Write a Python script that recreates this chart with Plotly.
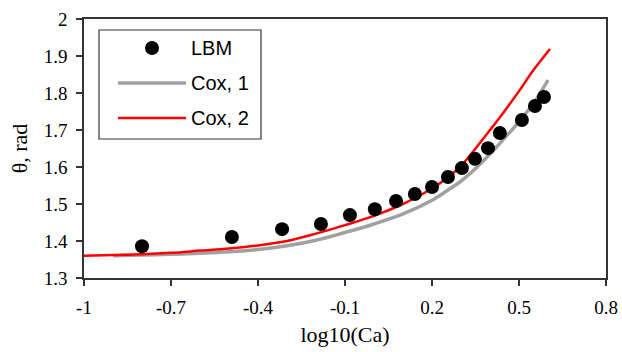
import plotly.graph_objects as go

# ---- data ----
lbm_x = [-0.80, -0.49, -0.317, -0.183, -0.083, 0.003, 0.076, 0.141, 0.200, 0.255,
         0.303, 0.348, 0.393, 0.434, 0.510, 0.555, 0.586]
lbm_y = [1.386, 1.411, 1.432, 1.446, 1.470, 1.486, 1.508, 1.527, 1.546, 1.573,
         1.597, 1.622, 1.651, 1.692, 1.727, 1.765, 1.789]

cox1_x = [-0.9, -0.8, -0.7, -0.6, -0.5, -0.4, -0.3, -0.2, -0.1, 0.0, 0.1, 0.2,
          0.25, 0.3, 0.35, 0.4, 0.45, 0.5, 0.55, 0.6]
cox1_y = [1.360, 1.362, 1.364, 1.367, 1.371, 1.377, 1.387, 1.402, 1.423, 1.446,
          1.473, 1.510, 1.535, 1.562, 1.596, 1.635, 1.678, 1.722, 1.772, 1.835]

cox2_x = [-1.0, -0.9, -0.8, -0.7, -0.6, -0.5, -0.4, -0.3, -0.2, -0.1, 0.0, 0.1,
          0.15, 0.2, 0.25, 0.3, 0.35, 0.4, 0.45, 0.5, 0.55, 0.607]
cox2_y = [1.360, 1.362, 1.364, 1.368, 1.374, 1.380, 1.388, 1.400, 1.420, 1.443,
          1.468, 1.500, 1.520, 1.542, 1.569, 1.603, 1.650, 1.700, 1.751, 1.805,
          1.862, 1.919]

x_ticks = [-1, -0.7, -0.4, -0.1, 0.2, 0.5, 0.8]
x_ticktext = ["-1", "-0.7", "-0.4", "-0.1", "0.2", "0.5", "0.8"]
y_ticks = [1.3, 1.4, 1.5, 1.6, 1.7, 1.8, 1.9, 2.0]
y_ticktext = ["1.3", "1.4", "1.5", "1.6", "1.7", "1.8", "1.9", "2"]

series_names = ["LBM", "Cox, 1", "Cox, 2"]

GRAY = "#a0a0a0"
RED = "#ff0000"

fig = go.Figure()
fig.add_trace(go.Scatter(x=cox1_x, y=cox1_y, mode="lines", name=series_names[1],
                         line=dict(color=GRAY, width=3.5, shape="spline",
                                   smoothing=1.0), showlegend=False))
fig.add_trace(go.Scatter(x=cox2_x, y=cox2_y, mode="lines", name=series_names[2],
                         line=dict(color=RED, width=2.5, shape="spline",
                                   smoothing=1.0), showlegend=False))
fig.add_trace(go.Scatter(x=lbm_x, y=lbm_y, mode="markers", name=series_names[0],
                         marker=dict(color="black", size=14), showlegend=False))

# ---- hand-made legend box (paper coordinates) ----
W, H = 522.0, 259.0
def px(xp):
    return (xp - 84) / W
def py(yp):
    return 1 - (yp - 19) / H

shapes = [
    dict(type="rect", xref="paper", yref="paper", x0=px(99), x1=px(261),
         y0=py(139), y1=py(30), line=dict(color="#333333", width=1.2),
         fillcolor="white", layer="above"),
    dict(type="circle", xref="paper", yref="paper", x0=px(145), x1=px(159),
         y0=py(55), y1=py(41), line=dict(color="black", width=0),
         fillcolor="black", layer="above"),
    dict(type="line", xref="paper", yref="paper", x0=px(118), x1=px(186),
         y0=py(83), y1=py(83), line=dict(color=GRAY, width=3.5), layer="above"),
    dict(type="line", xref="paper", yref="paper", x0=px(118), x1=px(186),
         y0=py(118), y1=py(118), line=dict(color=RED, width=2.5), layer="above"),
]
annotations = []
for name, yc in zip(series_names, [48, 83, 118]):
    annotations.append(dict(xref="paper", yref="paper", x=px(189), y=py(yc),
                            text=name, showarrow=False, xanchor="left",
                            yanchor="middle",
                            font=dict(family="Liberation Sans, Arial", size=20,
                                      color="black")))

serif = "Liberation Serif, Times New Roman, serif"
fig.update_layout(
    width=622, height=352, autosize=False,
    margin=dict(l=84, r=16, t=19, b=74, autoexpand=False),
    paper_bgcolor="white", plot_bgcolor="white",
    font=dict(family=serif, size=19, color="black"),
    shapes=shapes, annotations=annotations,
    xaxis=dict(range=[-1, 0.8], tickvals=x_ticks, ticktext=x_ticktext,
               automargin=False,
               showgrid=False, zeroline=False, showline=True,
               linecolor="#333333", linewidth=1.5, mirror=True,
               ticks="outside", ticklen=6, tickcolor="#333333", tickwidth=1.5,
               ticklabelstandoff=5,
               tickfont=dict(family=serif, size=19),
               title=dict(text="log10(Ca)", font=dict(family=serif, size=22),
                          standoff=10)),
    yaxis=dict(range=[1.3, 2.0], tickvals=y_ticks, ticktext=y_ticktext,
               automargin=False,
               showgrid=False, zeroline=False, showline=True,
               linecolor="#333333", linewidth=1.5, mirror=True,
               ticks="outside", ticklen=6, tickcolor="#333333", tickwidth=1.5,
               ticklabelstandoff=5,
               tickfont=dict(family=serif, size=19),
               title=dict(text="θ, rad", font=dict(family=serif, size=22),
                          standoff=10)),
)

fig.write_html(
    "out.html",
    config={"displayModeBar": False},
    post_script="document.body.style.margin='0';document.body.style.overflow='hidden';",
)
